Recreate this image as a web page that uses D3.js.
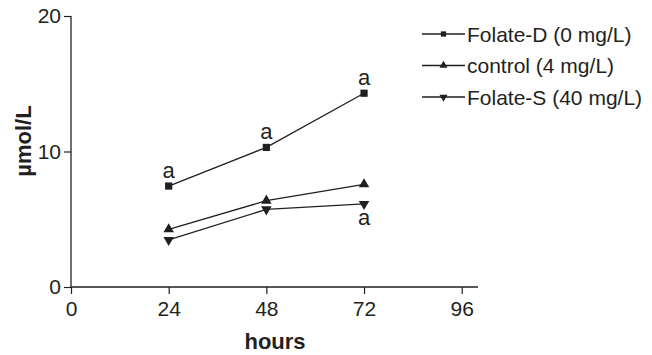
<!DOCTYPE html>
<html>
<head>
<meta charset="utf-8">
<script src="https://cdn.jsdelivr.net/npm/d3@7"></script>
<style>
  body { margin: 0; background: #fff; }
  svg { font-family: "Liberation Sans", Arial, sans-serif; }
</style>
</head>
<body>
<svg id="chart" width="652" height="355"></svg>
<script>
const hours = [24, 48, 72];
const xTicks = [0, 24, 48, 72, 96];
const yTicks = [0, 10, 20];
const seriesNames = ["Folate-D (0 mg/L)", "control (4 mg/L)", "Folate-S (40 mg/L)"];
const folateD = [7.45, 10.3, 14.3];
const control = [4.26, 6.37, 7.58];
const folateS = [3.47, 5.73, 6.13];
const symbols = [d3.symbolSquare, d3.symbolTriangle, "down"];
// significance letters: [series index, point index, above?]
const letters = [[0, 0, true], [0, 1, true], [0, 2, true], [2, 2, false]];

const ink = "#231f20";
const svg = d3.select("#chart");
const x = d3.scaleLinear().domain([0, 100]).range([71, 478]);
const y = d3.scaleLinear().domain([0, 20]).range([287, 16]);

const allSeries = [folateD, control, folateS];

// axes
const xAxis = svg.append("g").attr("transform", `translate(0,${y(0)})`)
  .call(d3.axisBottom(x).tickValues(xTicks).tickSize(7).tickPadding(7).tickSizeOuter(0));
const yAxis = svg.append("g").attr("transform", `translate(${x(0)},0)`)
  .call(d3.axisLeft(y).tickValues(yTicks).tickSize(7).tickPadding(3).tickSizeOuter(0));
[xAxis, yAxis].forEach(a => {
  a.select(".domain").attr("stroke", ink).attr("stroke-width", 1.3);
  a.selectAll(".tick line").attr("stroke", ink).attr("stroke-width", 1.2);
  a.selectAll(".tick text").attr("fill", ink).style("font-size", "21px")
    .style("font-family", "'Liberation Sans', Arial, sans-serif");
});
xAxis.select(".domain").attr("d", `M${x(0)},0H${x(100)}`);
yAxis.select(".domain").attr("d", `M0,${y(20)}V${y(0)}`);

// axis titles
svg.append("text").attr("x", 275).attr("y", 349).attr("text-anchor", "middle")
  .attr("font-size", 22).attr("font-weight", "bold").attr("fill", ink).text("hours");
svg.append("text").attr("transform", "translate(31,141) rotate(-90)").attr("text-anchor", "middle")
  .attr("font-size", 22).attr("font-weight", "bold").attr("fill", ink).text("µmol/L");

function marker(sym, size) {
  if (sym === "down") return d3.symbol(d3.symbolTriangle, size)();
  return d3.symbol(sym, size)();
}

const line = d3.line().x((d, i) => x(hours[i])).y(d => y(d));

allSeries.forEach((vals, si) => {
  svg.append("path").attr("d", line(vals)).attr("fill", "none")
    .attr("stroke", ink).attr("stroke-width", 1.3);
  svg.selectAll(null).data(vals).enter().append("path")
    .attr("d", marker(symbols[si], si === 0 ? 52 : 48))
    .attr("transform", (d, i) => `translate(${x(hours[i])},${y(d)})` + (symbols[si] === "down" ? " rotate(180)" : ""))
    .attr("fill", ink);
});

// letters
svg.selectAll(".sig").data(letters).enter().append("text")
  .attr("class", "sig")
  .attr("x", d => x(hours[d[1]]))
  .attr("y", d => y(allSeries[d[0]][d[1]]) + (d[2] ? -8 : 21))
  .attr("text-anchor", "middle").attr("font-size", 22).attr("fill", ink).text("a");

// legend
const legend = svg.append("g");
seriesNames.forEach((name, i) => {
  const ly = 34 + i * 31.5;
  legend.append("line").attr("x1", 422).attr("x2", 465).attr("y1", ly).attr("y2", ly)
    .attr("stroke", ink).attr("stroke-width", 1.3);
  legend.append("path").attr("d", marker(symbols[i], 28))
    .attr("transform", `translate(443.5,${ly})` + (symbols[i] === "down" ? " rotate(180)" : ""))
    .attr("fill", ink);
  legend.append("text").attr("x", 467).attr("y", ly + 7.5).attr("font-size", 21)
    .attr("fill", ink).text(name);
});
</script>
</body>
</html>
